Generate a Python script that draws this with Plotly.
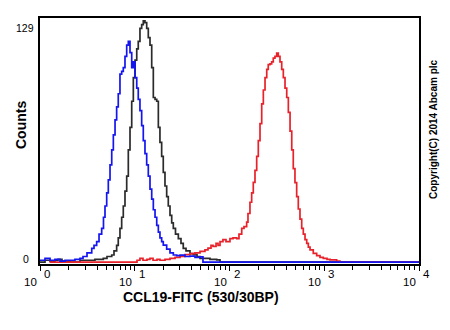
import numpy as np
import plotly.graph_objects as go

# Histogram data: log10 fluorescence (decades) and event counts
blue_log = [0.000, 0.053, 0.106, 0.158, 0.211, 0.264, 0.317, 0.369, 0.422, 0.454, 0.496, 0.546,
            0.570, 0.598, 0.623, 0.651, 0.670, 0.686, 0.704, 0.721, 0.739, 0.757, 0.774, 0.792,
            0.809, 0.826, 0.844, 0.862, 0.879, 0.897, 0.915, 0.932, 0.950, 0.968, 0.985, 1.003,
            1.021, 1.037, 1.055, 1.073, 1.090, 1.108, 1.126, 1.143, 1.161, 1.179, 1.196, 1.214,
            1.232, 1.249, 1.266, 1.284, 1.301, 1.337, 1.372, 1.407, 1.443, 1.478, 1.530, 1.583,
            1.636, 1.689, 1.720, 4.000]
blue_counts = [1, 2, 1, 1.5, 0.5, 1, 1, 1.5, 2, 3, 5, 7.4,
               9, 11, 15, 18, 24, 30, 37, 44, 52, 60, 68, 76,
               83, 90, 100.5, 102, 104, 110, 116, 118, 112, 104, 107, 98.6,
               93, 87, 81, 73, 65, 58, 52, 46, 39, 33.7, 28, 24,
               19.6, 16, 13, 11, 9.1, 7, 5, 3.8, 3.5, 3.7, 3, 3.2,
               2.5, 2.8, 0, 0]

black_log = [0.000, 0.053, 0.106, 0.158, 0.190, 0.232, 0.317, 0.422, 0.507, 0.580, 0.633, 0.668,
             0.707, 0.757, 0.781, 0.809, 0.826, 0.844, 0.862, 0.879, 0.897, 0.915, 0.932, 0.950,
             0.968, 0.985, 1.003, 1.021, 1.037, 1.055, 1.073, 1.090, 1.108, 1.126, 1.143, 1.161,
             1.179, 1.196, 1.214, 1.232, 1.249, 1.266, 1.284, 1.301, 1.319, 1.337, 1.354, 1.372,
             1.390, 1.407, 1.430, 1.460, 1.488, 1.512, 1.541, 1.583, 1.618, 1.657, 1.689, 1.741,
             1.794, 1.865, 1.900, 4.000]
black_counts = [0, 1, 0.5, 1, 1.5, 0.5, 0, 1, 1, 1.5, 1.5, 2,
                3, 3.8, 6, 9, 13, 18, 24, 30, 38, 46, 60, 72,
                86, 98.6, 108, 114, 118, 125, 127, 129, 128, 125, 120, 116,
                104, 88, 87, 86, 72, 64, 56.5, 48, 40.7, 35, 30, 25,
                21, 18, 15, 12.6, 10, 7.4, 6, 4.5, 4, 3, 2, 2,
                1.5, 1.2, 0, 0]

red_log = [0.100, 0.950, 1.024, 1.055, 1.087, 1.129, 1.161, 1.193, 1.235, 1.266, 1.319, 1.372,
           1.425, 1.478, 1.530, 1.583, 1.636, 1.689, 1.741, 1.773, 1.805, 1.826, 1.858, 1.879,
           1.900, 1.931, 1.963, 2.005, 2.037, 2.076, 2.100, 2.129, 2.153, 2.181, 2.195, 2.216,
           2.234, 2.251, 2.269, 2.287, 2.304, 2.322, 2.340, 2.357, 2.375, 2.393, 2.409, 2.427,
           2.445, 2.462, 2.480, 2.498, 2.515, 2.533, 2.551, 2.568, 2.586, 2.604, 2.621, 2.639,
           2.657, 2.673, 2.691, 2.709, 2.726, 2.744, 2.762, 2.779, 2.797, 2.815, 2.832, 2.850,
           2.884, 2.920, 2.955, 2.990, 3.029, 3.061, 3.092, 3.131, 3.166, 4.000]
red_counts = [0, 0, 1, 2, 1, 1.5, 2, 1, 1.5, 1, 1.5, 2,
              2.5, 3, 4, 4.5, 5, 5.8, 6.5, 7.5, 9, 8.4, 10, 9,
              11, 12, 11, 12.6, 13, 12.6, 15, 18, 19, 21.4, 26, 32,
              37, 42.6, 49, 56.5, 65, 74, 84.6, 92, 98.6, 103, 105.6, 106,
              107, 109, 110, 111.8, 110, 107, 103, 98.6, 93, 88, 80, 70,
              60, 50, 42.5, 35, 28.4, 23, 18, 15, 12, 10, 8, 6.5,
              4.7, 3.5, 2.5, 2, 1.5, 1.2, 1.2, 0.5, 0, 0]

decades = [0, 1, 2, 3, 4]
y_max_count = 129

fig = go.Figure()
series = [
    (black_log, black_counts, "#2b2b2b"),
    (red_log, red_counts, "#e8222a"),
    (blue_log, blue_counts, "#1515f0"),
]
for logs, counts, color in series:
    fig.add_trace(go.Scatter(
        x=np.power(10.0, logs), y=counts, mode="lines",
        line=dict(color=color, width=1.7, shape="hv"),
        showlegend=False, hoverinfo="skip",
    ))

fig.update_layout(
    width=450, height=330,
    margin=dict(l=40, r=31, t=18, b=66),
    paper_bgcolor="white", plot_bgcolor="white",
    font=dict(family="Liberation Sans, Arial, sans-serif", color="black"),
)

minor_vals = [m * 10 ** d for d in range(4) for m in range(2, 10)]
fig.update_xaxes(
    type="log", range=[0, 4], showgrid=False, zeroline=False,
    showline=True, linecolor="black", linewidth=1.5, mirror=True,
    ticks="outside", ticklen=5, tickwidth=1, tickcolor="black",
    tickvals=[10 ** d for d in decades], showticklabels=False,
    minor=dict(tickvals=minor_vals, ticks="outside", ticklen=4, tickwidth=1, tickcolor="black"),
)
fig.update_yaxes(
    range=[-1.0, 130.5], showgrid=False, zeroline=False,
    showline=True, linecolor="black", linewidth=1.5, mirror=True,
    ticks="", showticklabels=False,
)

# Decade labels 10^n with raised exponent
for d in decades:
    fig.add_annotation(x=d, y=0, xref="x", yref="paper", text="10",
                       showarrow=False, xanchor="right", yanchor="middle",
                       xshift=-1, yshift=-18, font=dict(size=11.5))
    fig.add_annotation(x=d, y=0, xref="x", yref="paper", text=str(d),
                       showarrow=False, xanchor="left", yanchor="middle",
                       xshift=2, yshift=-10, font=dict(size=11.5))

# Count axis end labels
fig.add_annotation(x=0, y=y_max_count, xref="paper", yref="y", text=str(y_max_count),
                   showarrow=False, xanchor="right", yanchor="middle",
                   xshift=-4, yshift=-7, font=dict(size=10.5))
fig.add_annotation(x=0, y=0, xref="paper", yref="y", text="0",
                   showarrow=False, xanchor="center", yanchor="middle",
                   xshift=-14, yshift=3, font=dict(size=10.5))

# Axis titles
fig.add_annotation(x=0, y=0, xref="paper", yref="paper", text="<b>CCL19-FITC (530/30BP)</b>",
                   showarrow=False, xanchor="center", yanchor="middle",
                   xshift=161, yshift=-33, font=dict(size=14))
fig.add_annotation(x=0, y=0.5, xref="paper", yref="paper", text="<b>Counts</b>",
                   showarrow=False, textangle=-90, xanchor="center", yanchor="middle",
                   xshift=-19, yshift=16, font=dict(size=14))

# Side copyright notice
fig.add_annotation(x=1, y=0.5, xref="paper", yref="paper", text="<b>Copyright(C) 2014 Abcam plc</b>",
                   showarrow=False, textangle=-90, xanchor="center", yanchor="middle",
                   xshift=14, yshift=12, font=dict(size=10))

fig.write_html("out.html")
